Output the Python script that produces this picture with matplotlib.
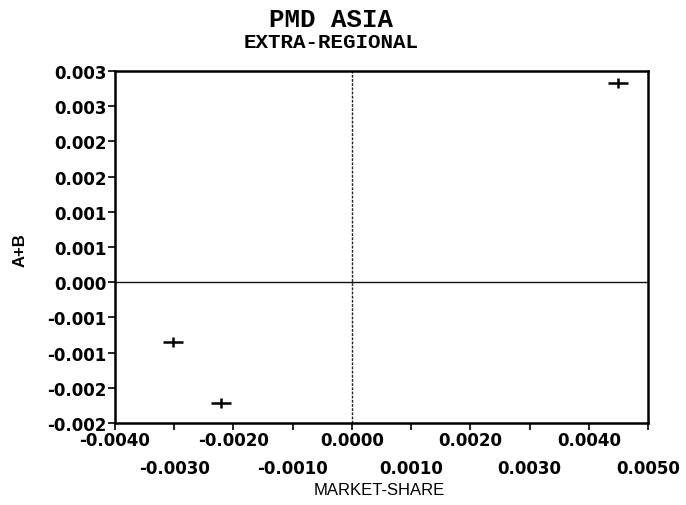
import matplotlib
matplotlib.use("Agg")
import matplotlib.pyplot as plt

# points
market_share = [0.00450, -0.00302, -0.00221]
a_plus_b = [0.00283, -0.00085, -0.00172]

x_even = [-0.004, -0.002, 0.0, 0.002, 0.004]
x_even_labels = ['-0.0040', '-0.0020', '0.0000', '0.0020', '0.0040']
x_odd = [-0.003, -0.001, 0.001, 0.003, 0.005]
x_odd_labels = ['-0.0030', '-0.0010', '0.0010', '0.0030', '0.0050']
y_ticks = [0.003, 0.0025, 0.002, 0.0015, 0.001, 0.0005, 0.0, -0.0005, -0.001, -0.0015, -0.002]
y_labels = ['0.003', '0.003', '0.002', '0.002', '0.001', '0.001', '0.000',
            '-0.001', '-0.001', '-0.002', '-0.002']

plt.rcParams['font.family'] = ['Liberation Sans', 'DejaVu Sans']

fig = plt.figure(figsize=(6.86, 5.06), dpi=100)
ax = fig.add_axes([115/686, 1-424/506, (648-115)/686, (424-72)/506])

# reference lines through the origin
ax.axvline(0, color='#222222', lw=1.0, ls=(0, (2, 1)), zorder=1)
ax.axhline(0, color='#111111', lw=1.0, zorder=1)

# '+' markers: wide horizontal bar, short vertical bar
ax.scatter(market_share, a_plus_b, marker='_', s=200, lw=1.8, color='black', zorder=3)
ax.scatter(market_share, a_plus_b, marker='|', s=45, lw=1.8, color='black', zorder=3)

ax.set_xlim(-0.004, 0.005)
ax.set_ylim(-0.002, 0.003)

tick_font = dict(family='DejaVu Sans', fontsize=12, fontweight='bold')
ax.set_xticks(x_even)
ax.set_xticklabels(x_even_labels, **tick_font)
ax.set_xticks(x_odd, minor=True)
ax.set_xticklabels(x_odd_labels, minor=True, **tick_font)
ax.tick_params(axis='x', which='major', length=5, width=1.2, pad=1)
ax.tick_params(axis='x', which='minor', length=5, width=1.2, pad=21)

ax.set_yticks(y_ticks)
ax.set_yticklabels(y_labels, **tick_font)
ax.tick_params(axis='y', length=5, width=1.2, pad=1)

for sp in ax.spines.values():
    sp.set_linewidth(1.8)

fig.text(379/686, 1-491/506, 'MARKET-SHARE', ha='center', va='center', fontsize=12)
fig.text(20/686, 1-250/506, 'A+B', ha='center', va='center', rotation=90,
         fontsize=12, fontweight='bold')

fig.text(331/686, 1-20/506, 'PMD ASIA', ha='center', va='center',
         family='Liberation Mono', fontsize=18.5, fontweight='bold')
fig.text(331/686, 1-43/506, 'EXTRA-REGIONAL', ha='center', va='center',
         family='Liberation Mono', fontsize=15, fontweight='bold')

fig.savefig('out.png', dpi=100)
